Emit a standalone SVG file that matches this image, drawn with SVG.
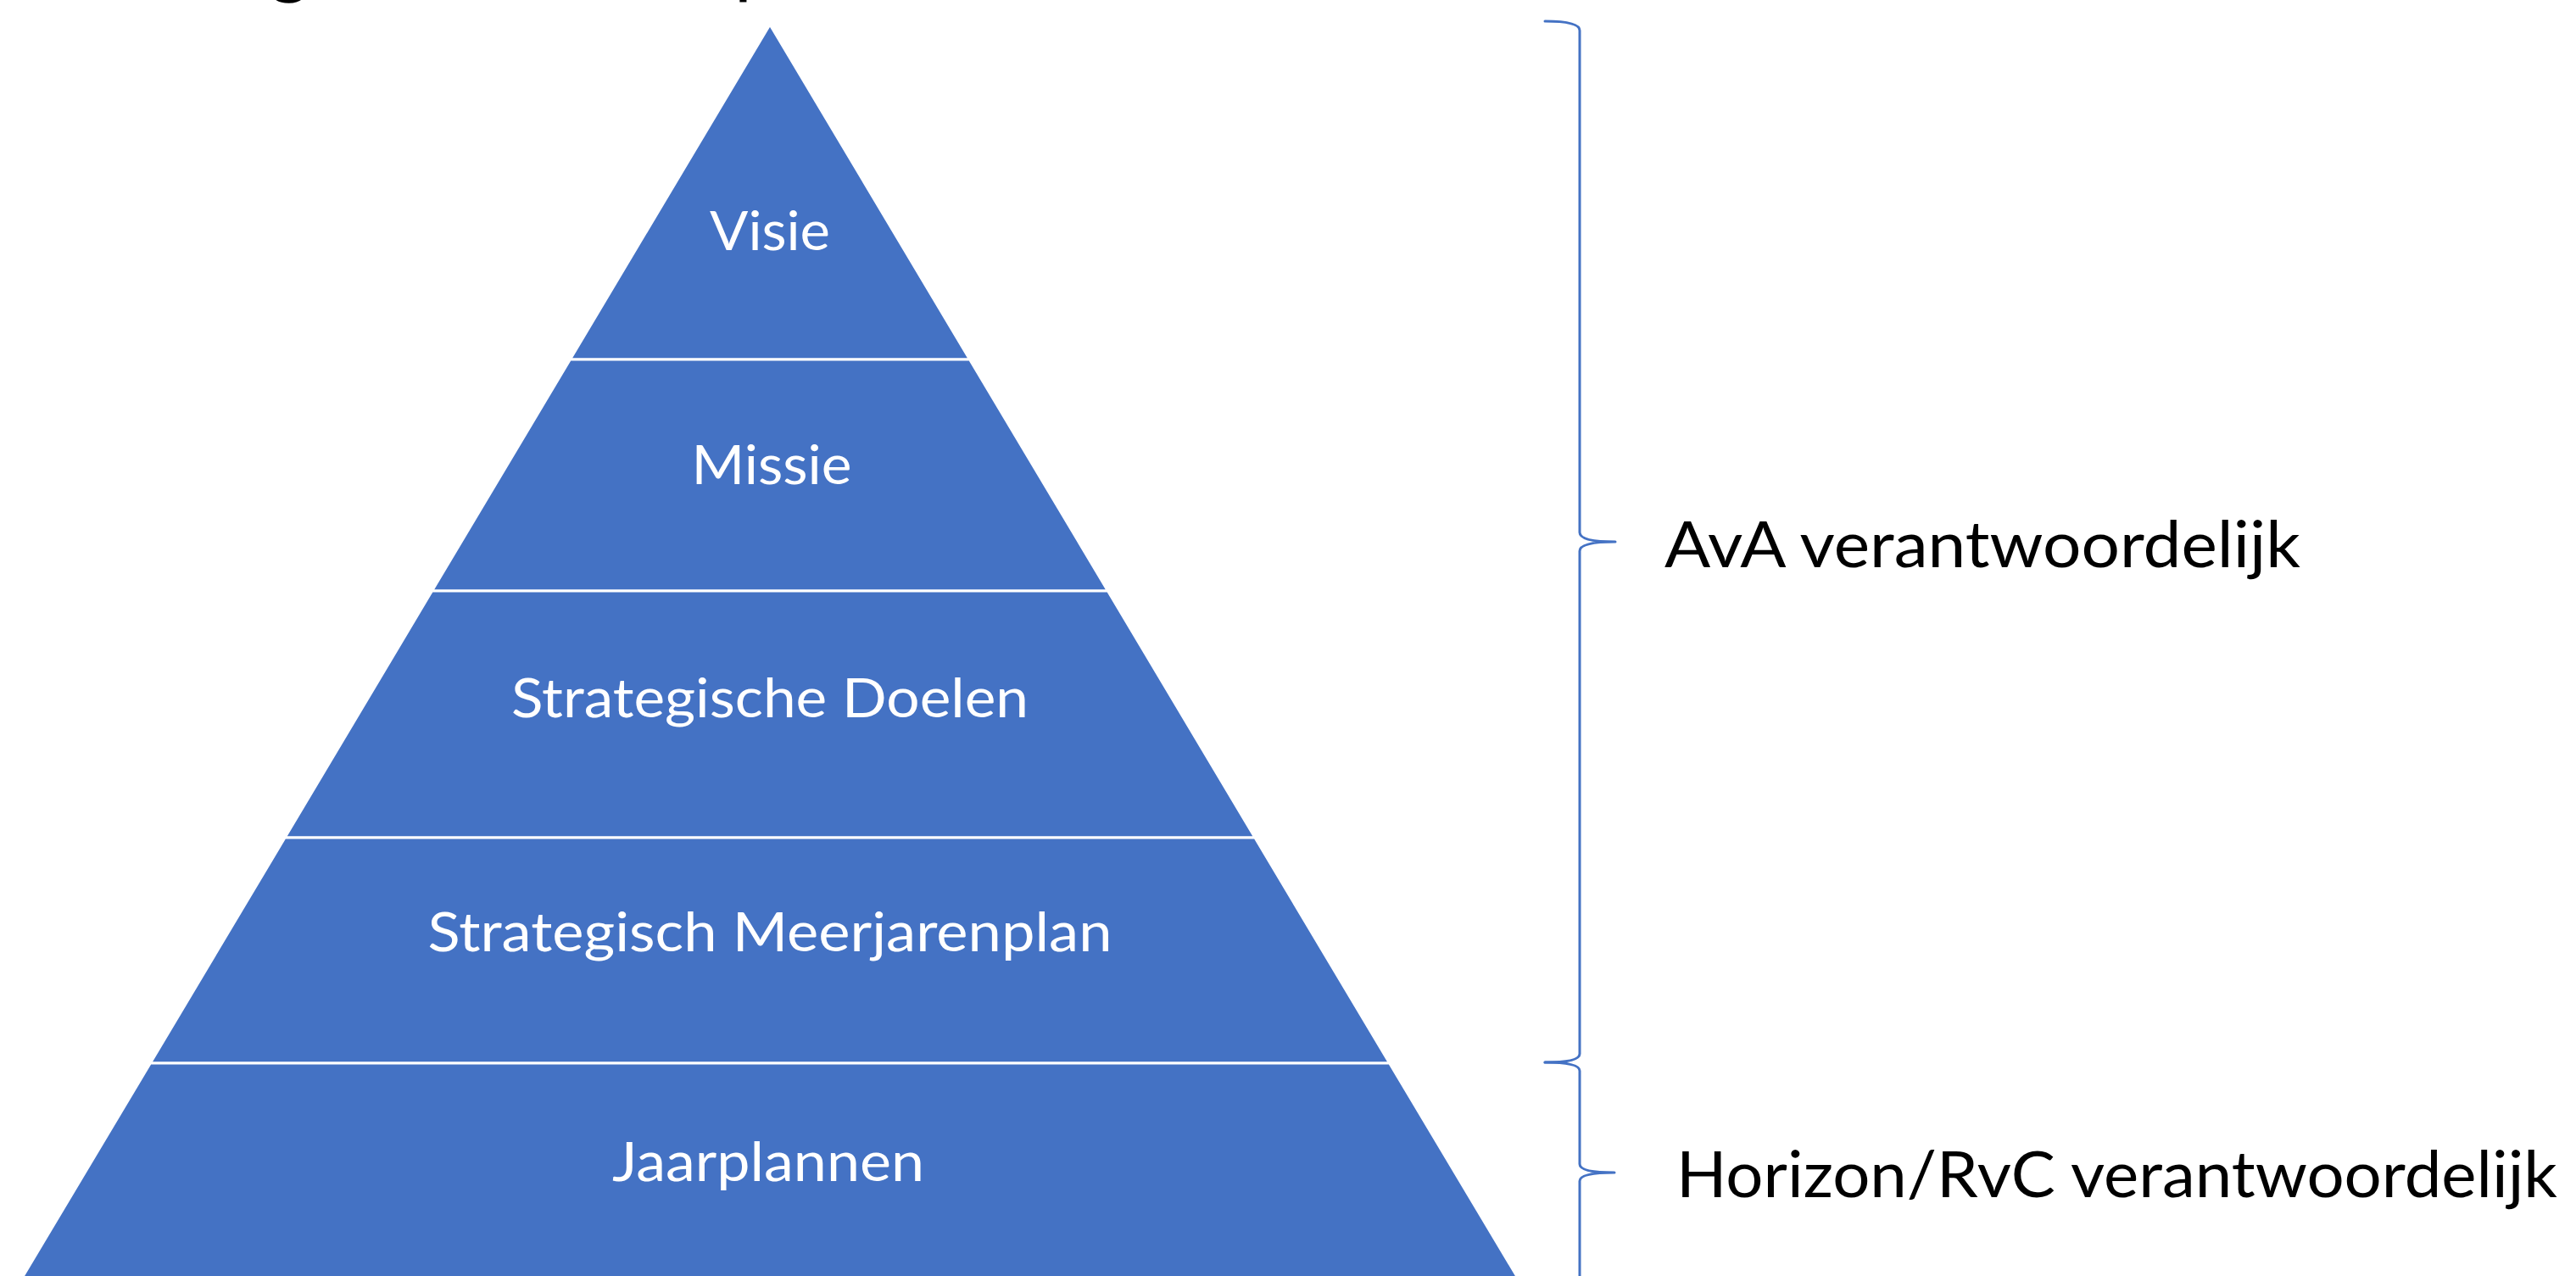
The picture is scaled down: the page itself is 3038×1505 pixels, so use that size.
<svg xmlns="http://www.w3.org/2000/svg" width="3038" height="1505" viewBox="0 0 3038 1505">
  <style>
    .seg { fill: #4472C4; stroke: #FFFFFF; stroke-width: 3; stroke-linejoin: miter; }
    .lbl { font-family: Lato, "Liberation Sans", sans-serif; font-size: 64px; fill: #FFFFFF; text-anchor: middle; }
    .side { font-family: Lato, "Liberation Sans", sans-serif; font-size: 76px; fill: #000000; }
    .title { font-family: Lato, "Liberation Sans", sans-serif; font-size: 90px; fill: #000000; }
    .brace { fill: none; stroke: #4472C4; stroke-width: 3; stroke-linecap: round; stroke-linejoin: round; }
  </style>
  <rect x="0" y="0" width="3038" height="1505" fill="#FFFFFF"/>

  <g id="title">
    <text class="title" x="318" y="-13">g</text>
    <text class="title" x="866" y="-13">p</text>
  </g>

  <g id="node-visie">
    <polygon class="seg" points="908,29 1143.6,424 672.4,424"/>
    <text class="lbl" x="908" y="295" textLength="142" lengthAdjust="spacingAndGlyphs">Visie</text>
  </g>
  <g id="node-missie">
    <polygon class="seg" points="672.4,424 1143.6,424 1306.5,697 509.5,697"/>
    <text class="lbl" x="910" y="571" textLength="189" lengthAdjust="spacingAndGlyphs">Missie</text>
  </g>
  <g id="node-doelen">
    <polygon class="seg" points="509.5,697 1306.5,697 1480,988 336,988"/>
    <text class="lbl" x="908" y="846" textLength="610" lengthAdjust="spacingAndGlyphs">Strategische Doelen</text>
  </g>
  <g id="node-meerjarenplan">
    <polygon class="seg" points="336,988 1480,988 1638.7,1254 177.3,1254"/>
    <text class="lbl" x="908" y="1122" textLength="807" lengthAdjust="spacingAndGlyphs">Strategisch Meerjarenplan</text>
  </g>
  <g id="node-jaarplannen">
    <polygon class="seg" points="177.3,1254 1638.7,1254 1800,1524 16,1524"/>
    <text class="lbl" x="906" y="1393" textLength="368" lengthAdjust="spacingAndGlyphs">Jaarplannen</text>
  </g>

  <g id="connectors">
    <path class="brace" d="M1822,25 Q1863,25 1863,36 L1863,628 Q1863,639 1905,639 Q1863,639 1863,650 L1863,1243 Q1863,1253 1822,1253"/>
    <path class="brace" d="M1822,1253 Q1863,1253 1863,1263 L1863,1373 Q1863,1383 1904,1383 Q1863,1383 1863,1393 L1863,1520"/>
  </g>

  <g id="label-ava">
    <text class="side" x="1963" y="669" textLength="750" lengthAdjust="spacingAndGlyphs">AvA verantwoordelijk</text>
  </g>
  <g id="label-horizon">
    <text class="side" x="1977" y="1412" textLength="1039" lengthAdjust="spacingAndGlyphs">Horizon/RvC verantwoordelijk</text>
  </g>
</svg>
